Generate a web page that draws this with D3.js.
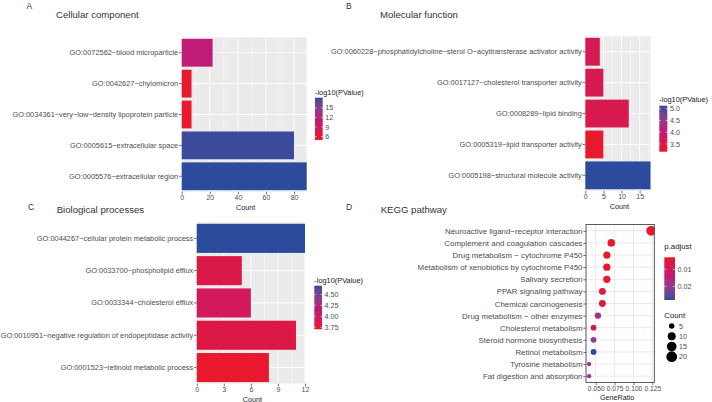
<!DOCTYPE html>
<html>
<head>
<meta charset="utf-8">
<script src="https://cdn.jsdelivr.net/npm/d3@7"></script>
<style>
  html, body { margin: 0; padding: 0; background: #ffffff; }
  svg { display: block; font-family: "Liberation Sans", Arial, Helvetica, sans-serif; }
</style>
</head>
<body>
<svg id="chart" width="712" height="402"></svg>
<script>
// ---------------- DATA ----------------
const ccTerms = ["GO:0072562~blood microparticle", "GO:0042627~chylomicron", "GO:0034361~very\u2212low\u2212density lipoprotein particle", "GO:0005615~extracellular space", "GO:0005576~extracellular region"];
const ccCount = [22, 7, 7, 80, 89];
const ccLogP = [11.0, 5.1, 4.9, 17.8, 18.2];
const ccTicks = [0, 20, 40, 60, 80];
const ccLegendTicks = [6, 9, 12, 15];

const mfTerms = ["GO:0060228~phosphatidylcholine\u2212sterol O\u2212acyltransferase activator activity", "GO:0017127~cholesterol transporter activity", "GO:0008289~lipid binding", "GO:0005319~lipid transporter activity", "GO:0005198~structural molecule activity"];
const mfCount = [4, 5, 12, 5, 18];
const mfLogP = [3.62, 3.60, 3.55, 3.17, 5.13];
const mfTicks = [0, 5, 10, 15];
const mfLegendTicks = [3.5, 4.0, 4.5, 5.0];

const bpTerms = ["GO:0044267~cellular protein metabolic process", "GO:0033700~phospholipid efflux", "GO:0033344~cholesterol efflux", "GO:0010951~negative regulation of endopeptidase activity", "GO:0001523~retinoid metabolic process"];
const bpCount = [12, 5, 6, 11, 8];
const bpLogP = [4.70, 3.86, 3.98, 3.85, 3.70];
const bpTicks = [0, 3, 6, 9, 12];
const bpLegendTicks = [3.75, 4.00, 4.25, 4.50];

const keggTerms = ["Neuroactive ligand\u2212receptor interaction", "Complement and coagulation cascades", "Drug metabolism \u2212 cytochrome P450", "Metabolism of xenobiotics by cytochrome P450", "Salivary secretion", "PPAR signaling pathway", "Chemical carcinogenesis", "Drug metabolism \u2212 other enzymes", "Cholesterol metabolism", "Steroid hormone biosynthesis", "Retinol metabolism", "Tyrosine metabolism", "Fat digestion and absorption"];
const keggRatio = [0.1235, 0.0706, 0.0647, 0.0647, 0.0647, 0.0588, 0.0588, 0.0529, 0.0471, 0.0471, 0.0471, 0.0412, 0.0412];
const keggCount = [21, 12, 11, 11, 11, 10, 10, 9, 8, 8, 8, 7, 7];
const keggPadj = [0.003, 0.003, 0.003, 0.003, 0.003, 0.005, 0.005, 0.018, 0.011, 0.021, 0.028, 0.016, 0.019];
const keggTicks = [0.050, 0.075, 0.100, 0.125];
const keggLegendTicks = [0.01, 0.02];
const keggSizeTicks = [5, 10, 15, 20];

// ---------------- STYLE ----------------
const LOW = "#E8192C", MID = "#BC1B7E", HIGH = "#2C4B9D";
const PANEL_BG = "#EBEBEB";
const TXT = "#4D4D4D", TICK = "#333333", TITLE = "#333333";

function makeColor(dom) {
  const t = d3.scaleLinear().domain(dom).range([0, 1]).clamp(true);
  const interp = d3.piecewise(d3.interpolateLab, [LOW, MID, HIGH]);
  return v => interp(t(v));
}

const svg = d3.select("#chart");
svg.append("rect").attr("width", 712).attr("height", 402).attr("fill", "#fff");

let gradId = 0;
function colorbar(g, color, dom, o) {
  const ly = d3.scaleLinear().domain(dom).range(o.reverse ? [o.yTop, o.yBot] : [o.yBot, o.yTop]);
  const id = "grad" + (gradId++);
  const grad = svg.append("defs").append("linearGradient").attr("id", id)
    .attr("x1", 0).attr("x2", 0).attr("y1", 0).attr("y2", 1);
  d3.range(0, 1.0001, 0.05).forEach(t => {
    const v = ly.invert(o.yTop + t * (o.yBot - o.yTop));
    grad.append("stop").attr("offset", t).attr("stop-color", color(v));
  });
  g.append("text").attr("x", o.x).attr("y", o.titleY).attr("font-size", o.titleSize || 7.4).attr("fill", "#1a1a1a").text(o.title);
  g.append("rect").attr("x", o.x).attr("y", o.yTop).attr("width", o.w).attr("height", o.yBot - o.yTop).attr("fill", `url(#${id})`);
  o.ticks.forEach(t => {
    const yy = ly(t);
    g.append("line").attr("x1", o.x).attr("x2", o.x + o.w * 0.2).attr("y1", yy).attr("y2", yy).attr("stroke", "#fff").attr("stroke-width", 0.6);
    g.append("line").attr("x1", o.x + o.w * 0.8).attr("x2", o.x + o.w).attr("y1", yy).attr("y2", yy).attr("stroke", "#fff").attr("stroke-width", 0.6);
    g.append("text").attr("x", o.x + o.w + 2.6).attr("y", yy + 2.6).attr("font-size", 7.2).attr("fill", TXT).text(o.fmt(t));
  });
}

function styleAxis(ax, fs) {
  ax.select(".domain").remove();
  ax.selectAll(".tick line").attr("stroke", TICK).attr("stroke-width", 0.7);
  ax.selectAll(".tick text").attr("fill", TXT).attr("font-size", fs).attr("font-family", "Liberation Sans, Arial, sans-serif");
}

function barPanel(o) {
  const g = svg.append("g");
  const x = d3.scaleLinear().domain([0, d3.max(o.count)]).range([o.x0, o.x1]);
  const y = d3.scaleBand().domain(o.terms).range([o.y0, o.y1]).paddingInner(0.1).paddingOuter(0.05);
  const col = makeColor(d3.extent(o.logp));

  g.append("rect").attr("x", o.x0).attr("y", o.y0).attr("width", o.x1 - o.x0).attr("height", o.y1 - o.y0).attr("fill", PANEL_BG);
  const step = o.ticks[1] - o.ticks[0];
  const minor = o.ticks.map(t => t + step / 2).filter(v => v < x.domain()[1]);
  g.selectAll(".mn").data(minor).join("line").attr("x1", d => x(d)).attr("x2", d => x(d))
    .attr("y1", o.y0).attr("y2", o.y1).attr("stroke", "#fff").attr("stroke-width", 0.4);
  g.selectAll(".mj").data(o.ticks).join("line").attr("x1", d => x(d)).attr("x2", d => x(d))
    .attr("y1", o.y0).attr("y2", o.y1).attr("stroke", "#fff").attr("stroke-width", 0.9);
  g.selectAll(".hj").data(o.terms).join("line").attr("x1", o.x0).attr("x2", o.x1)
    .attr("y1", d => y(d) + y.bandwidth() / 2).attr("y2", d => y(d) + y.bandwidth() / 2).attr("stroke", "#fff").attr("stroke-width", 0.9);

  g.selectAll(".bar").data(o.terms).join("rect")
    .attr("x", x(0)).attr("y", d => y(d)).attr("height", y.bandwidth())
    .attr("width", (d, i) => x(o.count[i]) - x(0))
    .attr("fill", (d, i) => col(o.logp[i]));

  const ay = g.append("g").attr("transform", `translate(${o.x0},0)`).call(d3.axisLeft(y).tickSize(2.7).tickPadding(0.8));
  styleAxis(ay, 7.4);
  const ax = g.append("g").attr("transform", `translate(0,${o.y1})`).call(d3.axisBottom(x).tickValues(o.ticks).tickSize(2.7).tickPadding(0.8).tickFormat(d3.format("d")));
  styleAxis(ax, 7);
  g.append("text").attr("x", (o.x0 + o.x1) / 2 + 1.5).attr("y", o.y1 + 17.8).attr("text-anchor", "middle").attr("font-size", 7.2).attr("fill", "#1a1a1a").text("Count");

  colorbar(g, col, d3.extent(o.logp), o.legend);
}

function label(x, y, t, fs) {
  svg.append("text").attr("x", x).attr("y", y).attr("font-size", fs).attr("fill", TITLE).text(t);
}

// Panel A
label(26.5, 8.8, "A", 8.5);
label(56, 17.8, "Cellular component", 9.6);
barPanel({
  terms: ccTerms, count: ccCount, logp: ccLogP, ticks: ccTicks,
  x0: 181.7, x1: 306.7, y0: 37.3, y1: 191.7,
  legend: { x: 315, yTop: 97.7, yBot: 140, w: 7.7, ticks: ccLegendTicks, fmt: d3.format("d"), title: "-log10(PValue)", titleY: 94.6 }
});

// Panel B
label(346, 8.8, "B", 8.5);
label(380, 17.8, "Molecular function", 9.6);
barPanel({
  terms: mfTerms, count: mfCount, logp: mfLogP, ticks: mfTicks,
  x0: 585.3, x1: 650.5, y0: 36.3, y1: 190.8,
  legend: { x: 659.3, yTop: 105.7, yBot: 151.7, w: 8, ticks: mfLegendTicks, fmt: d3.format(".1f"), title: "-log10(PValue)", titleY: 101.9 }
});

// Panel C
label(28, 210, "C", 8.5);
label(56.7, 212.5, "Biological processes", 9.6);
barPanel({
  terms: bpTerms, count: bpCount, logp: bpLogP, ticks: bpTicks,
  x0: 196.7, x1: 305, y0: 222.2, y1: 383.7,
  legend: { x: 314.3, yTop: 285.7, yBot: 329.3, w: 7.7, ticks: bpLegendTicks, fmt: d3.format(".2f"), title: "-log10(PValue)", titleY: 282.6 }
});

// Panel D
label(346, 210, "D", 8.5);
label(380.7, 212.5, "KEGG pathway", 9.6);
(function () {
  const g = svg.append("g");
  const x0 = 586, x1 = 654.3, y0 = 224.5, y1 = 382.5;
  const ext = d3.extent(keggRatio), pad = (ext[1] - ext[0]) * 0.05;
  const x = d3.scaleLinear().domain([ext[0] - pad, ext[1] + pad]).range([x0, x1]);
  const y = d3.scalePoint().domain(keggTerms).range([y0, y1]).padding(0.52);
  const col = makeColor(d3.extent(keggPadj));
  const sizeNorm = d3.scaleLinear().domain(d3.extent(keggCount)).range([0, 1]).clamp(true);
  const diam = d3.scaleLinear().domain([0, 1]).range([4.3, 9.8]);
  const r = c => diam(Math.sqrt(sizeNorm(c))) / 2;

  g.append("rect").attr("x", x0).attr("y", y0).attr("width", x1 - x0).attr("height", y1 - y0).attr("fill", "#fff");
  const minor = [keggTicks[0] - 0.0125].concat(keggTicks.map(t => t + 0.0125)).filter(v => v > x.domain()[0] && v < x.domain()[1]);
  g.selectAll(".mn").data(minor).join("line").attr("x1", d => x(d)).attr("x2", d => x(d))
    .attr("y1", y0).attr("y2", y1).attr("stroke", "#F0F0F0").attr("stroke-width", 0.5);
  g.selectAll(".mj").data(keggTicks).join("line").attr("x1", d => x(d)).attr("x2", d => x(d))
    .attr("y1", y0).attr("y2", y1).attr("stroke", "#E6E6E6").attr("stroke-width", 0.9);
  g.selectAll(".hj").data(keggTerms).join("line").attr("x1", x0).attr("x2", x1)
    .attr("y1", d => y(d)).attr("y2", d => y(d)).attr("stroke", "#E6E6E6").attr("stroke-width", 0.9);

  const clip = svg.append("defs").append("clipPath").attr("id", "clipD");
  clip.append("rect").attr("x", x0).attr("y", y0).attr("width", x1 - x0).attr("height", y1 - y0);
  g.append("g").attr("clip-path", "url(#clipD)").selectAll("circle").data(keggTerms).join("circle")
    .attr("cx", (d, i) => x(keggRatio[i])).attr("cy", d => y(d))
    .attr("r", (d, i) => r(keggCount[i])).attr("fill", (d, i) => col(keggPadj[i]));

  g.append("rect").attr("x", x0).attr("y", y0).attr("width", x1 - x0).attr("height", y1 - y0)
    .attr("fill", "none").attr("stroke", "#333").attr("stroke-width", 0.8);

  const ay = g.append("g").attr("transform", `translate(${x0},0)`).call(d3.axisLeft(y).tickSize(2.7).tickPadding(0.8));
  styleAxis(ay, 7.9);
  const ax = g.append("g").attr("transform", `translate(0,${y1})`).call(d3.axisBottom(x).tickValues(keggTicks).tickSize(2.7).tickPadding(0.8).tickFormat(d3.format(".3f")));
  styleAxis(ax, 6.7);
  g.append("text").attr("x", (x0 + x1) / 2 - 3).attr("y", y1 + 17.5).attr("text-anchor", "middle").attr("font-size", 7.2).attr("fill", "#1a1a1a").text("GeneRatio");

  colorbar(g, col, d3.extent(keggPadj), { x: 664.3, yTop: 257.3, yBot: 300, w: 10.7, ticks: keggLegendTicks, fmt: d3.format(".2f"), title: "p.adjust", titleY: 248.6, reverse: true, titleSize: 7.8 });

  g.append("text").attr("x", 664.3).attr("y", 317.6).attr("font-size", 7.8).attr("fill", "#1a1a1a").text("Count");
  const ly = d3.scalePoint().domain(keggSizeTicks).range([326, 356.7]);
  keggSizeTicks.forEach(t => {
    g.append("circle").attr("cx", 671.7).attr("cy", ly(t)).attr("r", r(t) + 0.6).attr("fill", "#000");
    g.append("text").attr("x", 679).attr("y", ly(t) + 2.6).attr("font-size", 7.2).attr("fill", TXT).text(t);
  });
})();
</script>
</body>
</html>
